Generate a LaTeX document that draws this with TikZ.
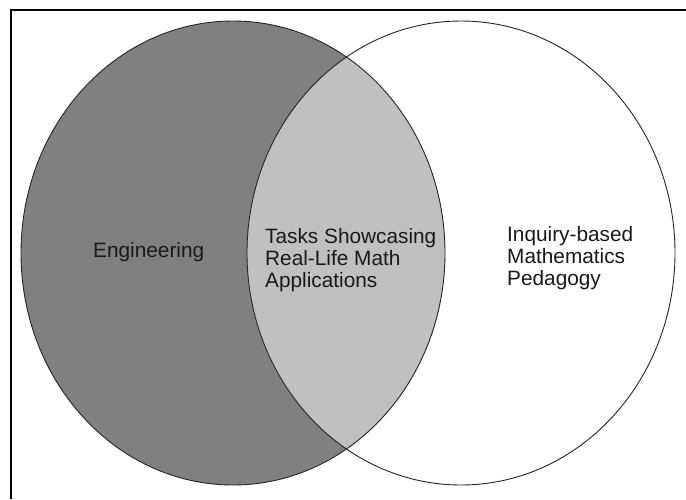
\documentclass[tikz,border=0pt]{standalone}
\usepackage{fontspec}
\setmainfont{Liberation Sans}
\definecolor{darkfill}{HTML}{808080}
\definecolor{lightfill}{HTML}{C0C0C0}
\begin{document}
\begin{tikzpicture}[x=1pt,y=-1pt,
  setlabel/.style={anchor=base west, inner sep=0pt, align=left,
    font=\fontsize{20.8}{22}\selectfont, text=black!90},
  setoutline/.style={draw=black!85, line width=0.9pt}]
\useasboundingbox (0,0) rectangle (686,499);
\fill[white] (0,0) rectangle (686,499);
% frame (only top and left edges visible)
\coordinate (ftl) at (11.3,10.3);
\coordinate (ftr) at (686,10.3);
\coordinate (fbl) at (11.3,499);
\draw[line width=2pt] (fbl) -- (ftl) -- (ftr);
% sets
\coordinate (cl) at (233,253);
\coordinate (cr) at (461,253);
\fill[darkfill] (cl) ellipse [x radius=212, y radius=232];
\begin{scope}
  \clip (cl) ellipse [x radius=212, y radius=232];
  \fill[lightfill] (cr) ellipse [x radius=214, y radius=232];
\end{scope}
\draw[setoutline] (cl) ellipse [x radius=212, y radius=232];
\draw[setoutline] (cr) ellipse [x radius=214, y radius=232];
% labels (base anchor of a multi-line node is the baseline of its last line)
\node[setlabel] (eng) at (93,257) {Engineering};
\node[setlabel] (mid) at (265,287) {Tasks Showcasing\\Real-Life Math\\Applications};
\node[setlabel] (ped) at (507,285) {Inquiry-based\\Mathematics\\Pedagogy};
\end{tikzpicture}
\end{document}
